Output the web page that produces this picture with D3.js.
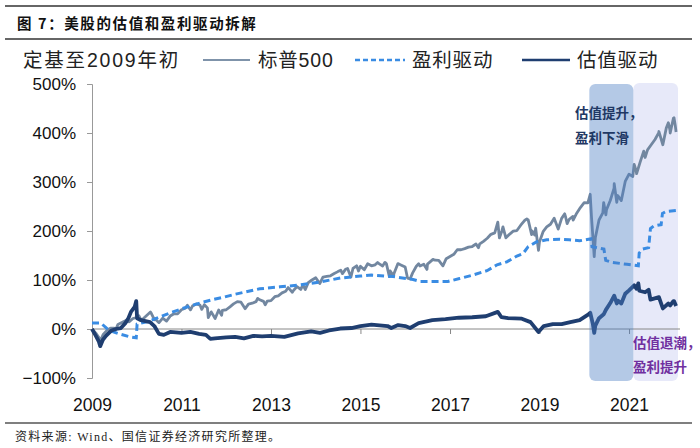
<!DOCTYPE html>
<html><head><meta charset="utf-8">
<script src="https://cdn.jsdelivr.net/npm/d3@7"></script>
<style>body{margin:0;background:#fff}svg{display:block}</style>
</head><body>
<svg id="c" width="700" height="448"></svg>
<script>
const titleText = "图 7：美股的估值和盈利驱动拆解";
const sourceText = "资料来源: Wind、国信证券经济研究所整理。";
const legendNote = "定基至2009年初";
const seriesNames = ["标普500", "盈利驱动", "估值驱动"];
const yTicks = [-100, 0, 100, 200, 300, 400, 500];
const yTickLabels = ["−100%", "0%", "100%", "200%", "300%", "400%", "500%"];
const xTicks = ["2009-01-01","2011-01-01","2013-01-01","2015-01-01","2017-01-01","2019-01-01","2021-01-01"];
const xTickLabels = ["2009","2011","2013","2015","2017","2019","2021"];
const noteA = ["估值提升，", "盈利下滑"];
const noteB = ["估值退潮，", "盈利提升"];
const phaseA = ["2020-02-12", "2021-02-05"];
const phaseB = ["2021-02-05", "2022-02-05"];

const spxDates = ["2009-01-01","2009-02-01","2009-03-01","2009-03-09","2009-04-01","2009-05-01","2009-06-01","2009-07-01","2009-07-10","2009-08-01","2009-09-01","2009-10-01","2009-11-01","2009-12-01","2010-01-01","2010-01-19","2010-02-08","2010-03-01","2010-04-01","2010-04-23","2010-05-01","2010-05-25","2010-06-01","2010-07-02","2010-08-01","2010-09-01","2010-10-01","2010-11-01","2010-12-01","2011-01-01","2011-02-01","2011-02-18","2011-03-16","2011-04-01","2011-05-01","2011-06-01","2011-06-16","2011-07-07","2011-08-01","2011-08-08","2011-09-01","2011-10-03","2011-11-01","2011-11-25","2011-12-01","2012-01-01","2012-02-01","2012-03-01","2012-04-01","2012-05-01","2012-06-04","2012-07-01","2012-08-01","2012-09-01","2012-09-14","2012-10-01","2012-11-01","2012-11-15","2012-12-01","2013-01-01","2013-02-01","2013-03-01","2013-04-01","2013-05-01","2013-05-21","2013-06-24","2013-07-01","2013-08-01","2013-09-01","2013-09-18","2013-10-08","2013-11-01","2013-12-01","2014-01-01","2014-02-03","2014-03-01","2014-04-01","2014-05-01","2014-06-01","2014-07-01","2014-07-24","2014-08-07","2014-09-01","2014-09-18","2014-10-15","2014-11-01","2014-12-01","2014-12-16","2015-01-01","2015-02-01","2015-03-01","2015-04-01","2015-05-01","2015-05-21","2015-06-01","2015-07-01","2015-07-20","2015-08-01","2015-08-25","2015-09-01","2015-09-28","2015-10-01","2015-11-03","2015-12-01","2016-01-01","2016-01-20","2016-02-11","2016-03-01","2016-04-01","2016-04-20","2016-05-01","2016-06-01","2016-06-27","2016-07-01","2016-08-15","2016-09-01","2016-10-01","2016-11-04","2016-12-01","2017-01-01","2017-02-01","2017-03-01","2017-04-01","2017-05-01","2017-06-01","2017-07-01","2017-08-01","2017-08-21","2017-09-01","2017-10-01","2017-11-01","2017-12-01","2018-01-01","2018-01-26","2018-02-08","2018-03-01","2018-03-09","2018-04-02","2018-05-01","2018-06-01","2018-07-01","2018-08-01","2018-09-01","2018-09-20","2018-10-01","2018-10-29","2018-11-01","2018-11-23","2018-12-01","2018-12-24","2019-01-01","2019-02-01","2019-03-01","2019-04-01","2019-05-01","2019-06-03","2019-07-01","2019-07-26","2019-08-01","2019-08-15","2019-09-01","2019-10-01","2019-10-03","2019-11-01","2019-12-01","2020-01-01","2020-01-31","2020-02-19","2020-03-01","2020-03-23","2020-04-01","2020-05-01","2020-06-01","2020-06-08","2020-06-26","2020-07-01","2020-08-01","2020-09-01","2020-09-02","2020-09-23","2020-10-01","2020-10-30","2020-12-01","2021-01-01","2021-02-01","2021-02-12","2021-03-01","2021-03-04","2021-04-01","2021-05-01","2021-05-12","2021-06-01","2021-07-01","2021-08-01","2021-09-01","2021-09-02","2021-10-04","2021-11-01","2021-11-18","2021-12-01","2021-12-03","2021-12-29","2022-01-03","2022-01-13","2022-01-20"];
const spxValues = [0,-8.5,-18.6,-25,-11.6,-3.3,1.8,1.8,-3,9.3,13.1,17.1,14.7,21.4,23.5,27,17,22.3,29.5,34.6,31.5,19,20.6,13,22,16.2,26.4,31,30.8,39.3,42.4,48.5,39,46.8,51.1,48.9,40,49.6,43.1,23.4,35,21.5,38.8,28,38.1,39.3,45.3,51.3,55.9,54.8,41.5,50.8,52.7,55.8,62.5,59.6,56.4,49.5,56.8,57.9,65.9,67.8,73.8,77,84.5,75,77.9,86.7,80.8,90,80.5,94.6,100,104.7,92.8,105.9,107.3,108.6,113.1,117.1,120,113,121.8,123.5,106,123.5,129,118.5,128,120.9,133.1,129,131,135.8,133.3,128.5,136,133,106.8,118.4,108,112.6,133.5,130.3,126.4,104,102.5,114,128.1,133,128.7,132.2,121.6,132.4,142,140.4,140.1,129,143.5,148,152.4,161.8,161.7,164,167.1,168.3,173.5,166,173.8,179,185.2,193.2,196.1,218.2,185.8,200.6,208.5,186,193.2,199.6,201,211.8,221.4,224.5,222.7,192.5,200.3,191.6,205.6,160.4,177.6,199.4,208.3,213.8,226.2,203.9,225.8,235,230,215,224,229.7,222,236.4,247.8,257.8,257.3,275,227.1,147.7,186.3,222.5,237.1,258,233,243.3,262.2,287.6,296.5,258.5,272.4,262.1,301.1,316,311.3,335.7,322,317,340,363,350,365.6,376,386.7,400.9,403,376,410,421,405.8,400,430,431.2,416,402];

const epsDates = ["2009-01-01","2009-03-15","2009-05-20","2009-08-10","2009-11-05","2009-12-28","2010-01-04","2010-04-15","2010-07-01","2010-10-01","2011-01-01","2011-03-15","2011-06-15","2011-09-15","2011-12-15","2012-03-15","2012-07-01","2012-10-01","2013-03-15","2013-08-25","2014-02-05","2014-07-20","2015-01-01","2015-04-01","2015-09-25","2016-03-05","2016-05-01","2016-12-15","2017-03-20","2017-07-05","2017-10-30","2018-01-20","2018-04-10","2018-07-01","2018-08-20","2018-10-01","2018-12-10","2019-03-01","2019-06-15","2019-09-01","2019-11-25","2020-02-25","2020-03-05","2020-06-10","2020-06-25","2020-08-15","2020-12-15","2021-03-18","2021-03-25","2021-04-20","2021-06-10","2021-06-25","2021-07-20","2021-09-20","2021-10-01","2021-11-01","2022-01-20"];
const epsValues = [12,12,-3,-10,-16,-18,10,16,24,33,41,47,54,60,65,71,77,82,86,90,96,104,108,110,107,101,97,97,103,110,119,131,137,149,154,168,178,182,183,182,180,184,168,163,140,136,132,129,155,163,166,205,210,213,236,240,242];

const valDates = ["2009-01-01","2009-01-28","2009-02-25","2009-03-09","2009-03-31","2009-04-25","2009-06-10","2009-07-15","2009-08-25","2009-09-30","2009-10-25","2009-11-15","2009-12-15","2009-12-28","2010-01-04","2010-02-05","2010-04-20","2010-05-25","2010-07-01","2010-08-10","2010-10-01","2011-01-01","2011-03-15","2011-05-25","2011-07-20","2011-08-25","2011-10-01","2012-01-01","2012-03-15","2012-05-25","2012-08-10","2012-10-20","2013-01-01","2013-04-20","2013-08-10","2013-11-25","2014-02-05","2014-04-20","2014-07-20","2014-10-20","2015-01-01","2015-04-01","2015-08-10","2015-09-10","2015-11-05","2016-01-01","2016-02-10","2016-04-20","2016-08-10","2016-11-25","2017-03-15","2017-07-01","2017-10-20","2018-01-26","2018-02-25","2018-04-20","2018-08-10","2018-10-20","2018-12-24","2019-02-05","2019-04-20","2019-07-01","2019-09-10","2019-11-25","2020-02-05","2020-02-20","2020-03-12","2020-03-23","2020-04-01","2020-05-01","2020-06-08","2020-06-26","2020-08-01","2020-09-02","2020-09-23","2020-10-01","2020-10-30","2020-12-01","2021-01-01","2021-02-12","2021-03-04","2021-03-18","2021-03-26","2021-05-12","2021-06-10","2021-06-25","2021-09-02","2021-10-04","2021-11-18","2021-12-03","2021-12-29","2022-01-03","2022-01-20"];
const valValues = [0,-12,-25,-35,-22,-14,-3,0,2,12,22,35,45,57,22,18,14,6,-10,-12,-6,-8,-6,-10,-12,-20,-19,-17,-16,-19,-14,-15,-14,-16,-9,-5,-8,-3,1,2,6,9,6,2,8,6,2,12,18,20,23,24,26,35,24,22,21,14,-6,6,10,10,14,18,30,33,10,-8,7,22,30,39,53,68,52,58,52,72,79,89,82,93,78,75,80,60,65,42,52,48,57,57,47];

const parse = d3.timeParse("%Y-%m-%d");
const svg = d3.select("#c");

const x = d3.scaleTime().domain([parse("2009-01-01"), parse("2022-01-01")]).range([92, 673.75]);
const y = d3.scaleLinear().domain([-100, 500]).range([378, 84]);

// frame lines & title
svg.append("line").attr("x1",5).attr("x2",692).attr("y1",6).attr("y2",6).attr("stroke","#333").attr("stroke-width",1.5);
svg.append("line").attr("x1",5).attr("x2",692).attr("y1",39).attr("y2",39).attr("stroke","#333").attr("stroke-width",1.5);
svg.append("text").attr("x",17).attr("y",29).text(titleText)
  .attr("font-family","'Noto Sans CJK SC'").attr("font-weight","bold").attr("font-size",14.5).attr("letter-spacing",1.6).attr("fill","#111");
svg.append("line").attr("x1",5).attr("x2",692).attr("y1",423).attr("y2",423).attr("stroke","#555").attr("stroke-width",1.5);
svg.append("text").attr("x",15).attr("y",441).text(sourceText)
  .attr("font-family","'Liberation Serif','Noto Sans CJK SC'").attr("font-size",12).attr("letter-spacing",1.3).attr("fill","#222");

// light phase box under lines
svg.append("rect").attr("x",x(parse(phaseB[0]))).attr("width",x(parse(phaseB[1]))-x(parse(phaseB[0])))
  .attr("y",83).attr("height",298).attr("rx",6).attr("fill","#e7e9f9");

// y axis
const yAxis = d3.axisLeft(y).tickValues(yTicks).tickSize(5).tickFormat((d,i)=>yTickLabels[i]);
const gy = svg.append("g").attr("transform","translate(92,0)").call(yAxis);
gy.select(".domain").attr("stroke","#999");
gy.selectAll(".tick line").attr("stroke","#999");
gy.selectAll(".tick text").attr("x",-16).attr("font-family","'Liberation Sans',Arial").attr("font-size",17).attr("fill","#111");

// x axis at zero
const xAxis = d3.axisBottom(x).tickValues(xTicks.map(parse)).tickSize(5).tickFormat((d,i)=>xTickLabels[i]);
const gx = svg.append("g").attr("transform",`translate(0,${y(0)})`).call(xAxis);
gx.select(".domain").attr("stroke","#888").attr("d",`M92,0H680`);
gx.selectAll(".tick line").attr("stroke","#888");
gx.selectAll(".tick text").attr("y", 405 - y(0) - 6).attr("dy","0.71em").attr("font-family","'Liberation Sans',Arial").attr("font-size",17.5).attr("fill","#111");

// lines
const mk = (dates, vals) => dates.map((d,i)=>({t:parse(d), v:vals[i]}));
const line = d3.line().x(d=>x(d.t)).y(d=>y(d.v));
svg.append("path").datum(mk(spxDates,spxValues)).attr("d",line).attr("fill","none").attr("stroke","#7287a0").attr("stroke-width",2.8).attr("stroke-linejoin","round");
svg.append("path").datum(mk(epsDates,epsValues)).attr("d",line).attr("fill","none").attr("stroke","#3a8ce3").attr("stroke-width",3).attr("stroke-dasharray","7,4");
svg.append("path").datum(mk(valDates,valValues)).attr("d",line).attr("fill","none").attr("stroke","#1f3e70").attr("stroke-width",3.8).attr("stroke-linejoin","round");

// dark phase box over lines
svg.append("rect").attr("x",x(parse(phaseA[0]))).attr("width",x(parse(phaseA[1]))-x(parse(phaseA[0])))
  .attr("y",84).attr("height",297).attr("rx",6).attr("fill","#4d7fc4").attr("fill-opacity",0.42);

// notes
noteA.forEach((t,i)=>svg.append("text").attr("x",575).attr("y",118+i*25).text(t)
  .attr("font-family","'Noto Sans CJK SC'").attr("font-weight","bold").attr("font-size",13.5).attr("fill","#1f3864"));
noteB.forEach((t,i)=>svg.append("text").attr("x",633).attr("y",348+i*24).text(t)
  .attr("font-family","'Noto Sans CJK SC'").attr("font-weight","bold").attr("font-size",13.5).attr("fill","#7030a0"));

// legend
const lf = "'Liberation Sans','Noto Sans CJK SC'";
svg.append("text").attr("x",23).attr("y",67).text(legendNote).attr("font-family",lf).attr("font-size",19.5).attr("letter-spacing",1.8).attr("fill","#222");
const leg = [
  {x1:203,x2:250,tx:258,color:"#7f93aa",w:2,dash:null},
  {x1:355,x2:405,tx:412,color:"#3a8ce3",w:2.5,dash:"5,3"},
  {x1:522,x2:570,tx:577,color:"#1f3e70",w:2.5,dash:null}
];
leg.forEach((l,i)=>{
  svg.append("line").attr("x1",l.x1).attr("x2",l.x2).attr("y1",60).attr("y2",60).attr("stroke",l.color).attr("stroke-width",l.w).attr("stroke-dasharray",l.dash);
  svg.append("text").attr("x",l.tx).attr("y",67).text(seriesNames[i]).attr("font-family",lf).attr("font-size",19.5).attr("letter-spacing",0.8).attr("fill","#222");
});
</script>
</body></html>
